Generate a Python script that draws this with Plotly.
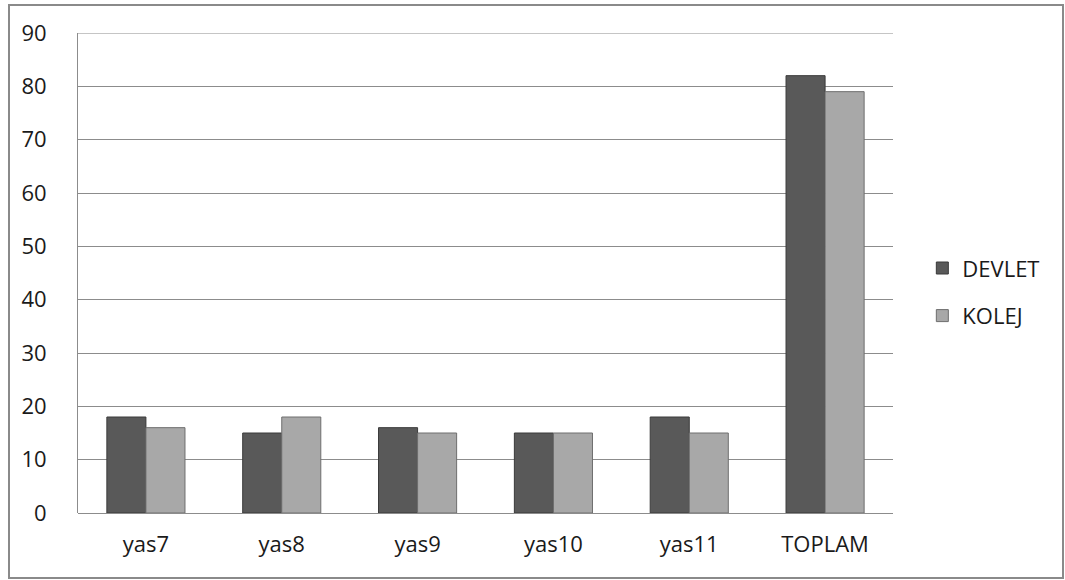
import plotly.graph_objects as go

categories = ["yas7", "yas8", "yas9", "yas10", "yas11", "TOPLAM"]
devlet = [18, 15, 16, 15, 18, 82]
kolej = [16, 18, 15, 15, 15, 79]
y_ticks = [0, 10, 20, 30, 40, 50, 60, 70, 80, 90]

FONT = "Open Sans, Noto Sans, sans-serif"

fig = go.Figure()
fig.add_trace(go.Bar(
    name="DEVLET", x=categories, y=devlet, legendgroup="a",
    marker=dict(color="#595959", line=dict(color="#3a3a3a", width=1)),
))
fig.add_trace(go.Bar(
    name="KOLEJ", x=categories, y=kolej, legendgroup="b",
    marker=dict(color="#a8a8a8", line=dict(color="#6e6e6e", width=1)),
))

fig.update_layout(
    width=1065, height=580,
    margin=dict(l=78, r=172, t=33, b=67),
    paper_bgcolor="white", plot_bgcolor="white",
    barmode="group", bargap=0.425, bargroupgap=0,
    font=dict(family=FONT, size=22, color="#1a1a1a"),
    showlegend=True,
    legend=dict(x=1.036, y=0.46, xanchor="left", yanchor="middle",
                tracegroupgap=16, font=dict(size=22, color="#1a1a1a"),
                itemwidth=30),
    xaxis=dict(showgrid=False, showline=False, ticks="", ticklabelstandoff=16),
    yaxis=dict(range=[0, 90], tickvals=y_ticks, showgrid=True,
               gridcolor="#8c8c8c", gridwidth=1, showline=True,
               linecolor="#8c8c8c", linewidth=1, ticks="",
               ticklabelstandoff=26, zeroline=True, zerolinecolor="#8c8c8c",
               zerolinewidth=1),
    shapes=[
        dict(type="line", xref="paper", yref="y", x0=0, x1=1, y0=90, y1=90,
             line=dict(color="#8c8c8c", width=1)),
        dict(type="rect", xref="paper", yref="paper",
             x0=(9 - 78) / 815, x1=(1063 - 78) / 815,
             y0=(513 - 578) / 480, y1=(513 - 5) / 480,
             line=dict(color="#8a8a8a", width=2), layer="below"),
    ],
)

fig.write_html("out.html")
